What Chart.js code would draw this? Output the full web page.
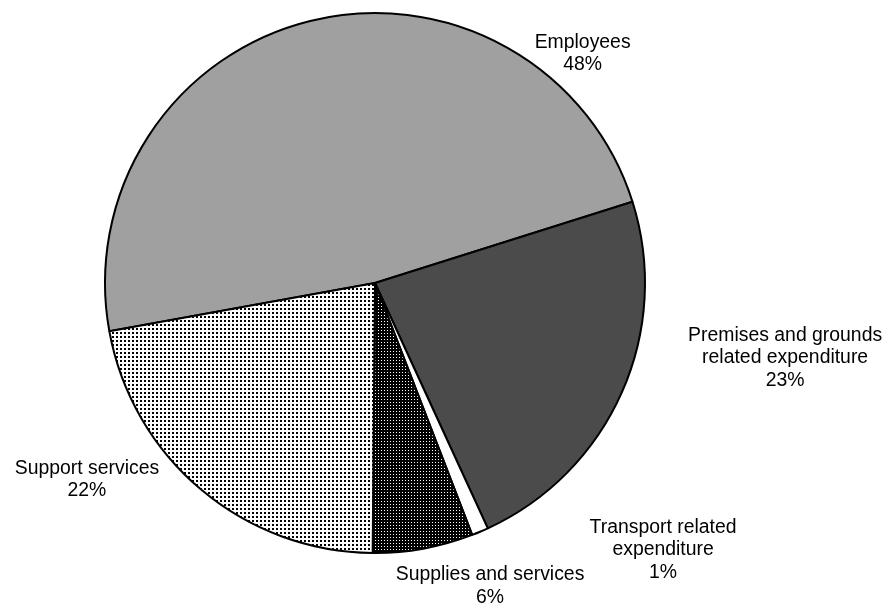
<!DOCTYPE html>
<html>
<head>
<meta charset="utf-8">
<title>Expenditure breakdown</title>
<script src="https://cdn.jsdelivr.net/npm/chart.js@4.4.1/dist/chart.umd.min.js"></script>
<style>
  html, body { margin: 0; padding: 0; background: #fff; }
  #wrap { position: relative; width: 891px; height: 604px; }
</style>
</head>
<body>
<div id="wrap"><canvas id="pieChart"></canvas></div>
<script>
// categories and shares (percent)
const categories = [
  ['Employees'],
  ['Premises and grounds', 'related expenditure'],
  ['Transport related', 'expenditure'],
  ['Supplies and services'],
  ['Support services']
];
const shares = [48, 23, 1, 6, 22];

// where each label sits, as a multiple of the pie radius from its centre
// (x of the text centre, y of the first baseline)
const labelSpots = [
  [0.769, -0.870],
  [1.519, 0.215],
  [1.067, 0.926],
  [0.426, 1.101],
  [-1.067, 0.707]
];

function dotPattern(size, dot, bg, fg) {
  const c = document.createElement('canvas');
  c.width = size;
  c.height = size;
  const g = c.getContext('2d');
  g.fillStyle = bg;
  g.fillRect(0, 0, size, size);
  g.fillStyle = fg;
  g.fillRect(0, 0, dot, dot);
  return g.createPattern(c, 'repeat');
}

const fills = [
  '#a0a0a0',
  '#4b4b4b',
  '#ffffff',
  dotPattern(3, 1, '#000000', '#ffffff'),
  dotPattern(4, 2, '#ffffff', '#000000')
];

const FONT = '19.4px "Liberation Sans", Arial, sans-serif';
const LINE = 22.3;

const outsideLabels = {
  id: 'outsideLabels',
  afterDatasetsDraw(chart) {
    const meta = chart.getDatasetMeta(0);
    const data = chart.data.datasets[0].data;
    const total = data.reduce((a, b) => a + b, 0);
    const ctx = chart.ctx;
    ctx.save();
    ctx.font = FONT;
    ctx.fillStyle = '#000';
    ctx.textAlign = 'center';
    ctx.textBaseline = 'alphabetic';
    meta.data.forEach((arc, i) => {
      const r = arc.outerRadius;
      const x = arc.x + labelSpots[i][0] * r;
      const y = arc.y + labelSpots[i][1] * r;
      const lines = categories[i].concat(Math.round(data[i] / total * 100) + '%');
      lines.forEach((t, j) => ctx.fillText(t, x, y + j * LINE));
    });
    ctx.restore();
  }
};

new Chart(document.getElementById('pieChart'), {
  type: 'pie',
  data: {
    labels: categories.map(c => c.join(' ')),
    datasets: [{
      data: shares,
      backgroundColor: fills,
      borderColor: '#000',
      borderWidth: 2
    }]
  },
  options: {
    responsive: true,
    maintainAspectRatio: false,
    animation: false,
    rotation: 259.7,
    layout: { padding: { top: 12, bottom: 50, left: 0, right: 141 } },
    plugins: {
      legend: { display: false },
      tooltip: { enabled: false }
    }
  },
  plugins: [outsideLabels]
});
</script>
</body>
</html>
